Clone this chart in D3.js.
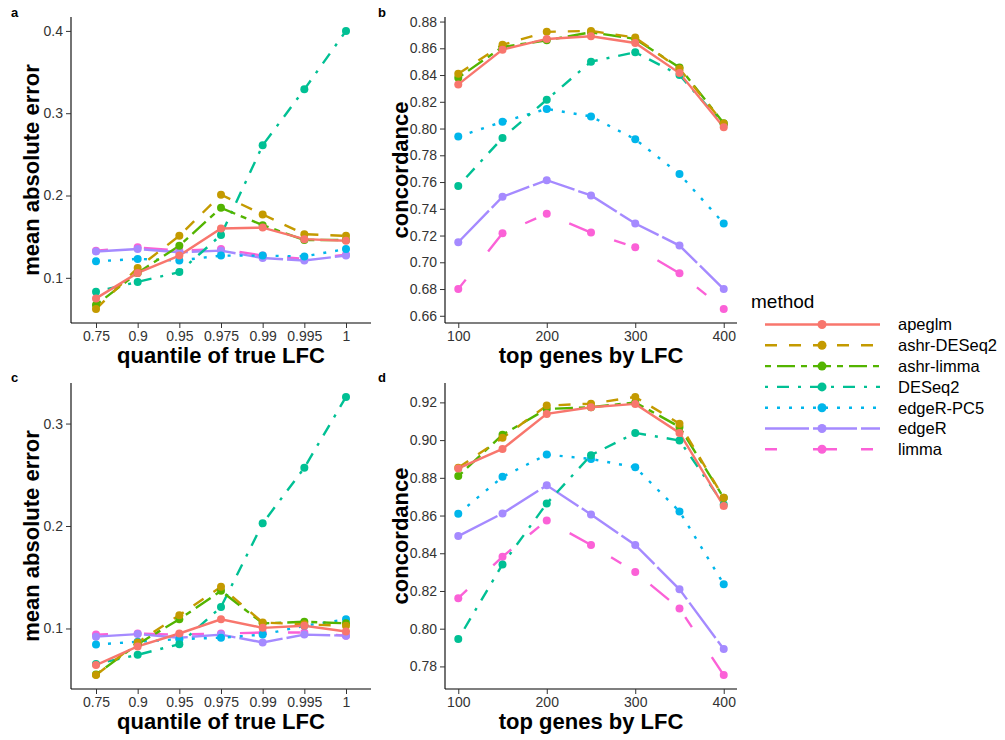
<!DOCTYPE html>
<html>
<head>
<meta charset="utf-8">
<script src="https://cdn.jsdelivr.net/npm/d3@7"></script>
<style>
  body { margin: 0; background: #fff; }
  text { font-family: "Liberation Sans", Arial, sans-serif; }
</style>
</head>
<body>
<div id="chart"></div>
<script>
// methods, in legend order
const methods = ["apeglm", "ashr-DESeq2", "ashr-limma", "DESeq2", "edgeR-PC5", "edgeR", "limma"];
const colors = ["#F8766D", "#C49A00", "#53B400", "#00C094", "#00B6EB", "#A58AFF", "#FB61D7"];
const dashes = [null, "12,12", "6,6,18,6", "3,9,12,9", "3,9", "44,4", "12,36,24,24"];

const quantiles = ["0.75", "0.9", "0.95", "0.975", "0.99", "0.995", "1"];
const topGenes = [100, 150, 200, 250, 300, 350, 400];

// panel a: mean absolute error, one row per method
const maeA = [
    [0.075, 0.106, 0.127, 0.160, 0.161, 0.147, 0.145],
    [0.062, 0.112, 0.151, 0.201, 0.177, 0.153, 0.151],
    [0.067, 0.106, 0.139, 0.185, 0.164, 0.146, 0.146],
    [0.083, 0.095, 0.107, 0.152, 0.261, 0.329, 0.400],
    [0.120, 0.123, 0.121, 0.127, 0.127, 0.126, 0.135],
    [0.132, 0.135, 0.131, 0.133, 0.124, 0.121, 0.127],
    [0.133, 0.137, 0.133, 0.135, 0.127, 0.123, 0.128]
];

// panel b: concordance
const concB = [
    [0.833, 0.859, 0.867, 0.869, 0.864, 0.8415, 0.801],
    [0.841, 0.8626, 0.8723, 0.873, 0.868, 0.8447, 0.8037],
    [0.838, 0.861, 0.866, 0.872, 0.867, 0.8457, 0.804],
    [0.757, 0.793, 0.8216, 0.850, 0.857, 0.840, 0.803],
    [0.794, 0.805, 0.8147, 0.809, 0.792, 0.766, 0.729],
    [0.715, 0.749, 0.7614, 0.750, 0.729, 0.7125, 0.680],
    [0.680, 0.7217, 0.7363, 0.7222, 0.7112, 0.6918, 0.665]
];

// panel c: mean absolute error
const maeC = [
    [0.0643, 0.0825, 0.0951, 0.109, 0.1006, 0.1026, 0.097],
    [0.0545, 0.0864, 0.113, 0.1406, 0.1058, 0.104, 0.1026],
    [0.055, 0.0847, 0.109, 0.1367, 0.105, 0.1065, 0.105],
    [0.0653, 0.0743, 0.0847, 0.121, 0.2026, 0.2568, 0.326],
    [0.0844, 0.087, 0.0896, 0.091, 0.094, 0.1026, 0.109],
    [0.092, 0.0945, 0.091, 0.094, 0.0864, 0.094, 0.093],
    [0.094, 0.095, 0.094, 0.095, 0.096, 0.096, 0.093]
];

// panel d: concordance
const concD = [
    [0.885, 0.8953, 0.9139, 0.9174, 0.9192, 0.9038, 0.865],
    [0.8853, 0.9012, 0.9183, 0.9193, 0.9229, 0.9087, 0.8694],
    [0.8809, 0.9029, 0.9165, 0.9174, 0.920, 0.907, 0.8694],
    [0.7945, 0.8341, 0.8664, 0.892, 0.9038, 0.8998, 0.8659],
    [0.861, 0.8805, 0.8923, 0.890, 0.8856, 0.8622, 0.8236],
    [0.8491, 0.8611, 0.876, 0.8606, 0.8444, 0.8209, 0.7892],
    [0.8162, 0.8382, 0.8574, 0.8444, 0.830, 0.8107, 0.7754]
];

const ticksA = [0.1, 0.2, 0.3, 0.4];
const ticksC = [0.1, 0.2, 0.3];
const ticksB = [0.66, 0.68, 0.70, 0.72, 0.74, 0.76, 0.78, 0.80, 0.82, 0.84, 0.86, 0.88];
const ticksD = [0.78, 0.80, 0.82, 0.84, 0.86, 0.88, 0.90, 0.92];
const ticksX = [100, 200, 300, 400];

const width = 1005, height = 740;

const svg = d3.select("#chart").append("svg")
    .attr("width", width)
    .attr("height", height);

function drawPanel(p) {
    const g = svg.append("g");

    let x;
    if (p.discrete) {
        x = d3.scalePoint().domain(quantiles).range([p.x0, p.x1]).padding(0.6);
    } else {
        x = d3.scaleLinear().domain([85, 415]).range([p.x0, p.x1]);
    }
    const xs = p.discrete ? quantiles : topGenes;

    const all = p.values.flat();
    const lo = d3.min(all), hi = d3.max(all);
    const pad = (hi - lo) * 0.05;
    const y = d3.scaleLinear().domain([lo - pad, hi + pad]).range([p.y1, p.y0]);

    // axes
    const yAxis = g.append("g")
        .attr("transform", `translate(${p.x0},0)`)
        .call(d3.axisLeft(y).tickValues(p.yTicks).tickSize(5).tickPadding(3).tickFormat(p.fmt));
    const xAxis = g.append("g")
        .attr("transform", `translate(0,${p.y1})`)
        .call(p.discrete
            ? d3.axisBottom(x).tickSize(5).tickPadding(3)
            : d3.axisBottom(x).tickValues(ticksX).tickSize(5).tickPadding(3));
    [xAxis, yAxis].forEach(a => {
        a.select(".domain").attr("stroke", "#000").attr("stroke-width", 1.1);
        a.selectAll(".tick line").attr("stroke", "#333");
        a.selectAll(".tick text")
            .attr("fill", "#333")
            .attr("font-size", 14)
            .attr("font-family", "Liberation Sans, Arial, sans-serif");
    });
    // axis lines only over the panel range
    yAxis.select(".domain").attr("d", `M0,${p.y1}V${p.y0}`);
    xAxis.select(".domain").attr("d", `M${p.x0},0H${p.x1}`);

    // lines (drawn from last method to first, so apeglm sits on top)
    const line = d3.line().x((d, i) => x(xs[i])).y(d => y(d));
    const order = d3.range(methods.length).reverse();
    order.forEach(k => {
        g.append("path")
            .datum(p.values[k])
            .attr("d", line)
            .attr("fill", "none")
            .attr("stroke", colors[k])
            .attr("stroke-width", 2.4)
            .attr("stroke-dasharray", dashes[k]);
    });
    order.forEach(k => {
        g.selectAll(null)
            .data(p.values[k])
            .join("circle")
            .attr("cx", (d, i) => x(xs[i]))
            .attr("cy", d => y(d))
            .attr("r", 4)
            .attr("fill", colors[k]);
    });

    // titles
    g.append("text")
        .attr("x", (p.x0 + p.x1) / 2)
        .attr("y", p.y1 + 40)
        .attr("text-anchor", "middle")
        .attr("font-size", 22)
        .attr("font-weight", "bold")
        .text(p.xTitle);
    g.append("text")
        .attr("transform", `translate(${p.yTitleX},${(p.y0 + p.y1) / 2}) rotate(-90)`)
        .attr("text-anchor", "middle")
        .attr("dy", "0.35em")
        .attr("font-size", 22)
        .attr("font-weight", "bold")
        .text(p.yTitle);
    g.append("text")
        .attr("x", p.tagX)
        .attr("y", p.tagY)
        .attr("font-size", 13)
        .attr("font-weight", "bold")
        .text(p.tag);
}

drawPanel({ tag: "a", tagX: 11, tagY: 17, x0: 71, x1: 371, y0: 17, y1: 323, discrete: true,
    values: maeA, yTicks: ticksA, fmt: d3.format(".1f"), yTitleX: 31,
    xTitle: "quantile of true LFC", yTitle: "mean absolute error" });
drawPanel({ tag: "b", tagX: 378, tagY: 17, x0: 445, x1: 737, y0: 17, y1: 323, discrete: false,
    values: concB, yTicks: ticksB, fmt: d3.format(".2f"), yTitleX: 400,
    xTitle: "top genes by LFC", yTitle: "concordance" });
drawPanel({ tag: "c", tagX: 11, tagY: 382, x0: 71, x1: 371, y0: 383, y1: 689, discrete: true,
    values: maeC, yTicks: ticksC, fmt: d3.format(".1f"), yTitleX: 31,
    xTitle: "quantile of true LFC", yTitle: "mean absolute error" });
drawPanel({ tag: "d", tagX: 378, tagY: 382, x0: 445, x1: 737, y0: 383, y1: 689, discrete: false,
    values: concD, yTicks: ticksD, fmt: d3.format(".2f"), yTitleX: 400,
    xTitle: "top genes by LFC", yTitle: "concordance" });

// legend
const legend = svg.append("g").attr("transform", "translate(751,0)");
legend.append("text")
    .attr("x", 0)
    .attr("y", 308)
    .attr("font-size", 19)
    .text("method");
const items = legend.selectAll(".legend-item")
    .data(methods)
    .join("g")
    .attr("class", "legend-item")
    .attr("transform", (d, i) => `translate(0,${324.5 + i * 20.8})`);
items.append("line")
    .attr("x1", 14).attr("x2", 129)
    .attr("stroke", (d, i) => colors[i])
    .attr("stroke-width", 2.4)
    .attr("stroke-dasharray", (d, i) => dashes[i]);
items.append("circle")
    .attr("cx", 71)
    .attr("r", 4.5)
    .attr("fill", (d, i) => colors[i]);
items.append("text")
    .attr("x", 147)
    .attr("dy", "0.36em")
    .attr("font-size", 16.5)
    .text(d => d);
</script>
</body>
</html>
